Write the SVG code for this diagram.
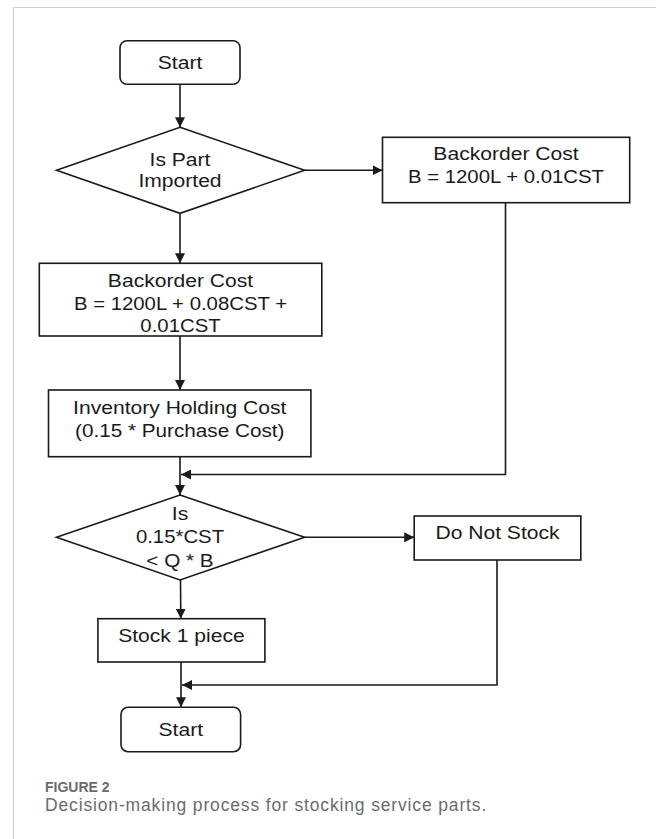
<svg xmlns="http://www.w3.org/2000/svg" width="656" height="839" viewBox="0 0 656 839">
<style>
.box{fill:#fff;stroke:#1a1a1a;stroke-width:1.6}
.t{font-family:"Liberation Sans",Arial,sans-serif;font-size:18.5px;fill:#1a1a1a;text-anchor:middle}
.ln{fill:none;stroke:#1a1a1a;stroke-width:1.6}
.cap{font-family:"Liberation Sans",Arial,sans-serif;fill:#6b6b6b}
</style>
<defs>
<marker id="ah" markerUnits="userSpaceOnUse" markerWidth="10" markerHeight="10" refX="10" refY="5" orient="auto">
<path d="M0,0 L10,5 L0,10 z" fill="#1a1a1a"/>
</marker>
</defs>
<rect width="656" height="839" fill="#fff"/>
<path d="M13.5,839 V7.5 H656" fill="none" stroke="#cfcfcf" stroke-width="1.2"/>
<g id="connectors">
<line class="ln" x1="180" y1="84.3" x2="180" y2="127.3" marker-end="url(#ah)"/>
<line class="ln" x1="304.6" y1="170.3" x2="382.5" y2="170.3" marker-end="url(#ah)"/>
<line class="ln" x1="180" y1="213.3" x2="180" y2="263.3" marker-end="url(#ah)"/>
<line class="ln" x1="180" y1="336" x2="180" y2="390" marker-end="url(#ah)"/>
<line class="ln" x1="180" y1="456.7" x2="180" y2="495" marker-end="url(#ah)"/>
<polyline class="ln" points="505.5,202.7 505.5,474.5 181,474.5" marker-end="url(#ah)"/>
<line class="ln" x1="304.6" y1="537.3" x2="414.2" y2="537.3" marker-end="url(#ah)"/>
<line class="ln" x1="180.5" y1="580" x2="180.8" y2="618.7" marker-end="url(#ah)"/>
<polyline class="ln" points="497,560 497,685 182,685" marker-end="url(#ah)"/>
<line class="ln" x1="181" y1="662" x2="181" y2="707.3" marker-end="url(#ah)"/>
</g>
<g id="start">
<rect class="box" x="120" y="40.7" width="120" height="43.6" rx="7"/>
<text class="t" transform="translate(180 69) scale(1.14 1)">Start</text>
</g>
<g id="imported">
<polygon class="box" points="180,127.3 304.6,170.3 180,213.3 56.5,170.3"/>
<text class="t" transform="translate(180 165.7) scale(1.14 1)">Is Part</text>
<text class="t" transform="translate(180 187.3) scale(1.14 1)">Imported</text>
</g>
<g id="backorder-local">
<rect class="box" x="382.5" y="137.3" width="247.2" height="65.4"/>
<text class="t" transform="translate(506 160) scale(1.14 1)">Backorder Cost</text>
<text class="t" transform="translate(506 183) scale(1.1 1)">B = 1200L + 0.01CST</text>
</g>
<g id="backorder-imported">
<rect class="box" x="39.3" y="263.3" width="282.5" height="72.7"/>
<text class="t" transform="translate(180.5 286.5) scale(1.14 1)">Backorder Cost</text>
<text class="t" transform="translate(180.5 309.5) scale(1.1 1)">B = 1200L + 0.08CST +</text>
<text class="t" transform="translate(180.5 332.3) scale(1.1 1)">0.01CST</text>
</g>
<g id="holding">
<rect class="box" x="48.5" y="390" width="262.4" height="66.7"/>
<text class="t" transform="translate(179.7 414) scale(1.14 1)">Inventory Holding Cost</text>
<text class="t" transform="translate(179.7 437.3) scale(1.12 1)">(0.15 * Purchase Cost)</text>
</g>
<g id="compare">
<polygon class="box" points="180,495 304.6,537.3 180,580 56.5,537.3"/>
<text class="t" transform="translate(180 520) scale(1.14 1)">Is</text>
<text class="t" transform="translate(180 543.3) scale(1.1 1)">0.15*CST</text>
<text class="t" transform="translate(180 566.7) scale(1.12 1)">&lt; Q * B</text>
</g>
<g id="do-not-stock">
<rect class="box" x="414.2" y="516" width="166.6" height="44"/>
<text class="t" transform="translate(497.5 539) scale(1.14 1)">Do Not Stock</text>
</g>
<g id="stock-one">
<rect class="box" x="97.9" y="618.7" width="167" height="43.3"/>
<text class="t" transform="translate(181.4 642.3) scale(1.14 1)">Stock 1 piece</text>
</g>
<g id="end">
<rect class="box" x="121" y="707.3" width="119.6" height="44.4" rx="7"/>
<text class="t" transform="translate(180.8 735.7) scale(1.14 1)">Start</text>
</g>
<text class="cap" x="45" y="791.7" font-size="14" font-weight="bold">FIGURE 2</text>
<text class="cap" x="45" y="810.7" font-size="17.5" letter-spacing="0.85">Decision-making process for stocking service parts.</text>
</svg>
